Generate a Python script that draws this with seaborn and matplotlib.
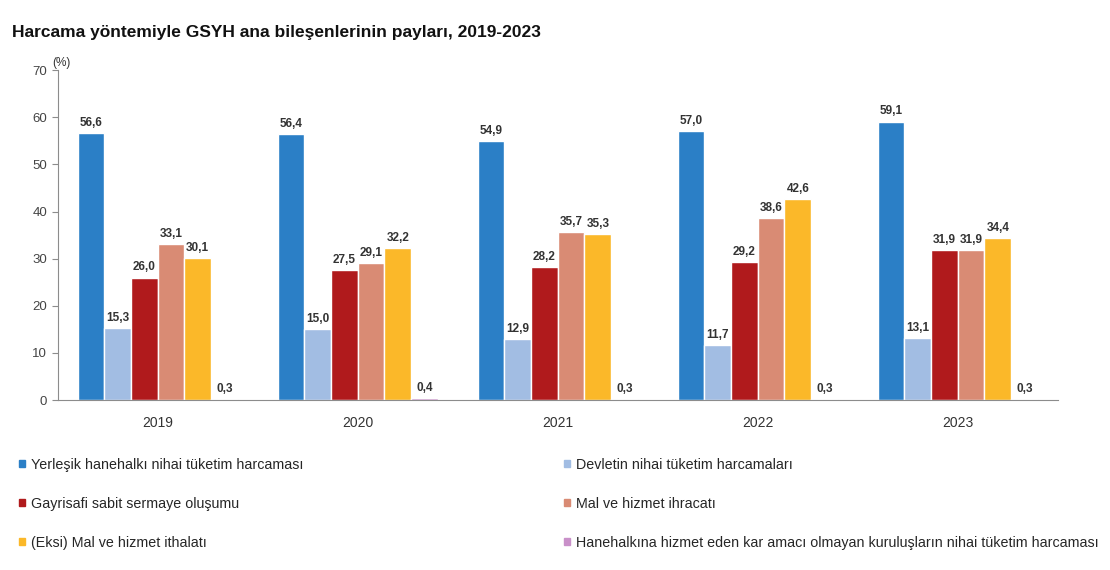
import matplotlib
matplotlib.use("Agg")
import matplotlib.pyplot as plt
import seaborn as sns
import pandas as pd

years = ["2019", "2020", "2021", "2022", "2023"]
components = [
    "Yerleşik hanehalkı nihai tüketim harcaması",
    "Devletin nihai tüketim harcamaları",
    "Gayrisafi sabit sermaye oluşumu",
    "Mal ve hizmet ihracatı",
    "(Eksi) Mal ve hizmet ithalatı",
    "Hanehalkına hizmet eden kar amacı olmayan kuruluşların nihai tüketim harcaması",
]
hanehalki = [56.6, 56.4, 54.9, 57.0, 59.1]
devlet = [15.3, 15.0, 12.9, 11.7, 13.1]
gsso = [26.0, 27.5, 28.2, 29.2, 31.9]
ihracat = [33.1, 29.1, 35.7, 38.6, 31.9]
ithalat = [30.1, 32.2, 35.3, 42.6, 34.4]
hizmet_kar = [0.3, 0.4, 0.3, 0.3, 0.3]
colors = ["#2B7FC6", "#A2BDE3", "#B01A1C", "#D98B74", "#FBB829", "#C990C9"]

series = [hanehalki, devlet, gsso, ihracat, ithalat, hizmet_kar]
rows = []
for comp, vals in zip(components, series):
    for y, v in zip(years, vals):
        rows.append({"Yıl": y, "Bileşen": comp, "Pay": v})
df = pd.DataFrame(rows)

sns.set_style("white")
plt.rcParams["font.family"] = ["Liberation Sans", "DejaVu Sans"]

fig = plt.figure(figsize=(11.1, 5.7), dpi=100)
ax = fig.add_axes([0.052, 0.298, 0.901, 0.579])

sns.barplot(data=df, x="Yıl", y="Pay", hue="Bileşen", hue_order=components,
            palette=colors, saturation=1, width=0.8, edgecolor="white", linewidth=1,
            ax=ax, legend=False)

for cont in ax.containers:
    ax.bar_label(cont, labels=[f"{b.get_height():.1f}".replace(".", ",") for b in cont],
                 padding=3, fontsize=8.5, fontweight="bold", color="#333333")

ax.set_ylim(0, 70)
ax.set_xlim(-0.5, 4.5)
ax.set_yticks(range(0, 71, 10))
ax.set_xlabel("")
ax.set_ylabel("")
for s in ["top", "right"]:
    ax.spines[s].set_visible(False)
ax.spines["left"].set_color("#8c8c8c")
ax.spines["bottom"].set_color("#8c8c8c")
ax.tick_params(axis="y", left=True, length=4, color="#8c8c8c", labelsize=9.5, labelcolor="#444444")
ax.tick_params(axis="x", bottom=False, labelsize=10, labelcolor="#333333", pad=8)

fig.text(0.047, 0.885, "(%)", fontsize=8.5, color="#333333")
fig.text(0.011, 0.935, "Harcama yöntemiyle GSYH ana bileşenlerinin payları, 2019-2023",
         fontsize=12.5, fontweight="bold", color="#111111")

handles = [plt.Rectangle((0, 0), 1, 1, color=c) for c in colors]
for idx, xpos in [([0, 2, 4], 0.012), ([1, 3, 5], 0.503)]:
    fig.legend([handles[i] for i in idx], [components[i] for i in idx],
               loc="upper left", bbox_to_anchor=(xpos, 0.207), frameon=False,
               fontsize=10.3, handlelength=0.42, handleheight=0.42, handletextpad=0.4,
               labelspacing=1.75, borderaxespad=0)

fig.savefig("out.png", dpi=100, facecolor="white")
